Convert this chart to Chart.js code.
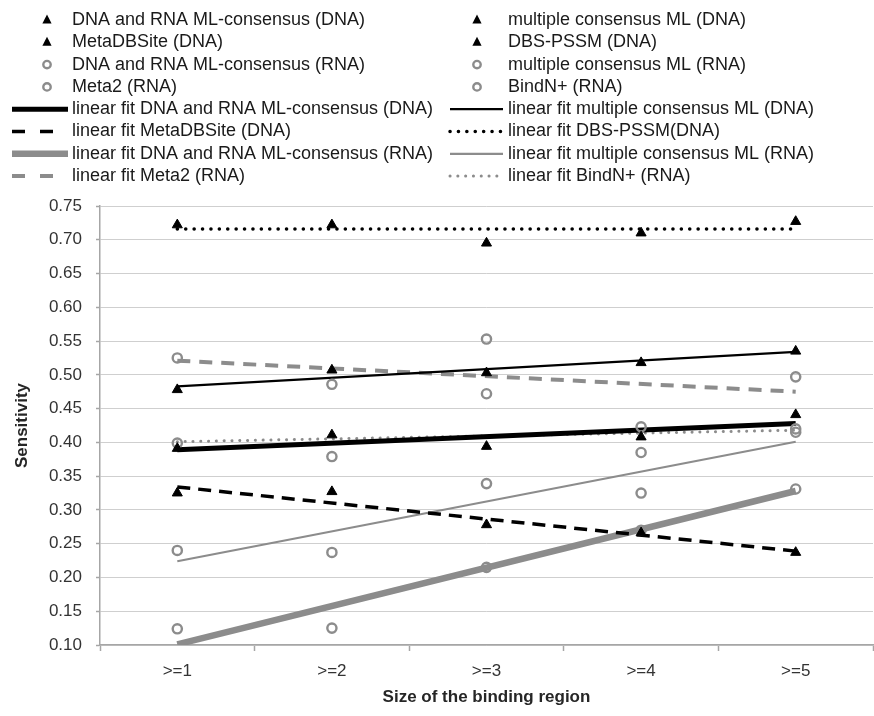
<!DOCTYPE html>
<html>
<head>
<meta charset="utf-8">
<script src="https://cdn.jsdelivr.net/npm/chart.js@4.4.0/dist/chart.umd.min.js"></script>
<style>
  html, body { margin: 0; padding: 0; background: #fff; overflow: hidden; }
  #wrap { width: 880px; height: 716px; }
</style>
</head>
<body>
<div id="wrap"><canvas id="chartCanvas" width="880" height="716"></canvas></div>
<script>
// categories on the x axis
const categories = ['>=1', '>=2', '>=3', '>=4', '>=5'];

// sensitivity values
const dnaRnaConsDna = [0.391, 0.411, 0.394, 0.408, 0.441];
const multiConsDna  = [0.478, 0.507, 0.503, 0.518, 0.535];
const metaDbSite    = [0.325, 0.327, 0.278, 0.266, 0.237];
const dbsPssm       = [0.722, 0.722, 0.695, 0.710, 0.727];
const dnaRnaConsRna = [0.124, 0.125, 0.215, 0.270, 0.331];
const multiConsRna  = [0.240, 0.237, 0.339, 0.325, 0.420];
const meta2         = [0.525, 0.486, 0.553, 0.423, 0.497];
const bindNPlus     = [0.399, 0.379, 0.472, 0.385, 0.415];

// linear fit lines: value at >=1 and at >=5
const fitDnaRnaConsDna = [0.389, 0.428];
const fitMultiConsDna  = [0.483, 0.534];
const fitMetaDbSite    = [0.334, 0.239];
const fitDbsPssm       = [0.716, 0.716];
const fitDnaRnaConsRna = [0.101, 0.328];
const fitMultiConsRna  = [0.224, 0.401];
const fitMeta2         = [0.521, 0.475];
const fitBindNPlus     = [0.401, 0.418];

// y axis ticks
const yMin = 0.10, yMax = 0.75, yStep = 0.05;

const GRAY = '#8c8c8c';
const FONT = "'Liberation Sans', Arial, sans-serif";

function markers(label, data, style) {
    const isTri = style === 'triangle';
    return {
        label: label,
        data: data,
        showLine: false,
        pointStyle: isTri ? 'triangle' : 'circle',
        pointRadius: isTri ? 5.8 : 4.6,
        pointBorderWidth: isTri ? 1 : 2.4,
        pointBorderColor: isTri ? '#000' : GRAY,
        pointBackgroundColor: isTri ? '#000' : 'rgba(0,0,0,0)',
        borderColor: isTri ? '#000' : GRAY,
        backgroundColor: isTri ? '#000' : 'rgba(0,0,0,0)'
    };
}

function fitLine(label, ends, color, width, dash, cap) {
    return {
        label: label,
        data: [ends[0], null, null, null, ends[1]],
        spanGaps: true,
        borderColor: color,
        borderWidth: width,
        borderDash: dash,
        borderCapStyle: cap || 'butt',
        pointRadius: 0,
        fill: false,
        tension: 0
    };
}

// two column legend drawn above the plot
const gridLegend = {
    id: 'gridLegend',
    afterDraw(chart) {
        const ctx = chart.ctx;
        ctx.save();
        chart.data.datasets.forEach((ds, i) => {
            const col = i % 2;
            const row = Math.floor(i / 2);
            const y = 20 + row * 22.3;
            const x0 = col === 0 ? 12 : 450;
            const x1 = col === 0 ? 68 : 503;
            const tx = col === 0 ? 72 : 508;
            if (ds.showLine === false) {
                const cx = col === 0 ? 47 : 477;
                if (ds.pointStyle === 'triangle') {
                    ctx.fillStyle = '#000';
                    ctx.beginPath();
                    ctx.moveTo(cx, y - 5.5);
                    ctx.lineTo(cx + 4.6, y + 3.5);
                    ctx.lineTo(cx - 4.6, y + 3.5);
                    ctx.closePath();
                    ctx.fill();
                } else {
                    ctx.strokeStyle = GRAY;
                    ctx.lineWidth = 2.4;
                    ctx.setLineDash([]);
                    ctx.beginPath();
                    ctx.arc(cx, y, 3.7, 0, Math.PI * 2);
                    ctx.stroke();
                }
            } else {
                let dash = ds.borderDash || [];
                // dashed samples show two long dashes, as in the original legend
                if (dash.length && dash[0] > 1) dash = [13, 15];
                ctx.strokeStyle = ds.borderColor;
                ctx.lineWidth = ds.borderWidth;
                ctx.setLineDash(dash);
                ctx.lineCap = ds.borderCapStyle;
                ctx.beginPath();
                ctx.moveTo(x0, y);
                ctx.lineTo(x1, y);
                ctx.stroke();
            }
            ctx.setLineDash([]);
            ctx.fillStyle = '#1a1a1a';
            ctx.font = '18px ' + FONT;
            ctx.textBaseline = 'middle';
            ctx.textAlign = 'left';
            ctx.fillText(ds.label, tx, y);
        });
        ctx.restore();
    }
};

const ctx = document.getElementById('chartCanvas').getContext('2d');
new Chart(ctx, {
    type: 'line',
    data: {
        labels: categories,
        datasets: [
            markers('DNA and RNA ML-consensus (DNA)', dnaRnaConsDna, 'triangle'),
            markers('multiple consensus ML (DNA)', multiConsDna, 'triangle'),
            markers('MetaDBSite (DNA)', metaDbSite, 'triangle'),
            markers('DBS-PSSM (DNA)', dbsPssm, 'triangle'),
            markers('DNA and RNA ML-consensus (RNA)', dnaRnaConsRna, 'circle'),
            markers('multiple consensus ML (RNA)', multiConsRna, 'circle'),
            markers('Meta2 (RNA)', meta2, 'circle'),
            markers('BindN+ (RNA)', bindNPlus, 'circle'),
            fitLine('linear fit DNA and RNA ML-consensus (DNA)', fitDnaRnaConsDna, '#000', 5, []),
            fitLine('linear fit multiple consensus ML (DNA)', fitMultiConsDna, '#000', 2.2, []),
            fitLine('linear fit MetaDBSite (DNA)', fitMetaDbSite, '#000', 3.5, [13, 8]),
            fitLine('linear fit DBS-PSSM(DNA)', fitDbsPssm, '#000', 3.5, [0.1, 8.3], 'round'),
            fitLine('linear fit DNA and RNA ML-consensus (RNA)', fitDnaRnaConsRna, GRAY, 6.5, []),
            fitLine('linear fit multiple consensus ML (RNA)', fitMultiConsRna, GRAY, 2.2, []),
            fitLine('linear fit Meta2 (RNA)', fitMeta2, GRAY, 4, [13, 9]),
            fitLine('linear fit BindN+ (RNA)', fitBindNPlus, GRAY, 3, [0.1, 7.7], 'round')
        ]
    },
    options: {
        responsive: false,
        animation: false,
        layout: { padding: { top: 206, right: 2, bottom: 0, left: 0 } },
        plugins: {
            legend: { display: false },
            tooltip: { enabled: false }
        },
        scales: {
            x: {
                offset: true,
                afterFit: s => { s.height = 71; },
                grid: {
                    offset: true,
                    drawOnChartArea: false,
                    tickLength: 6,
                    tickColor: '#a6a6a6',
                    tickWidth: 1.5
                },
                border: { color: '#a6a6a6', width: 1.5 },
                ticks: { color: '#333', padding: 10, font: { family: FONT, size: 17 } },
                title: {
                    display: true,
                    text: 'Size of the binding region',
                    color: '#262626',
                    padding: { top: 0, bottom: 8 },
                    font: { family: FONT, size: 17, weight: 'bold' }
                }
            },
            y: {
                min: yMin,
                max: yMax,
                afterFit: s => { s.width = 100; },
                grid: {
                    color: '#cfcfcf',
                    lineWidth: 1,
                    borderDash: [3, 3],
                    tickLength: 4,
                    tickColor: '#a6a6a6',
                    tickWidth: 1.5,
                    tickBorderDash: []
                },
                border: { color: '#a6a6a6', width: 1.5 },
                ticks: {
                    stepSize: yStep,
                    color: '#333',
                    padding: 14,
                    font: { family: FONT, size: 17 },
                    callback: v => v.toFixed(2)
                },
                title: {
                    display: true,
                    text: 'Sensitivity',
                    color: '#262626',
                    padding: { top: 12, bottom: 0 },
                    font: { family: FONT, size: 17, weight: 'bold' }
                }
            }
        }
    },
    plugins: [gridLegend]
});
</script>
</body>
</html>
